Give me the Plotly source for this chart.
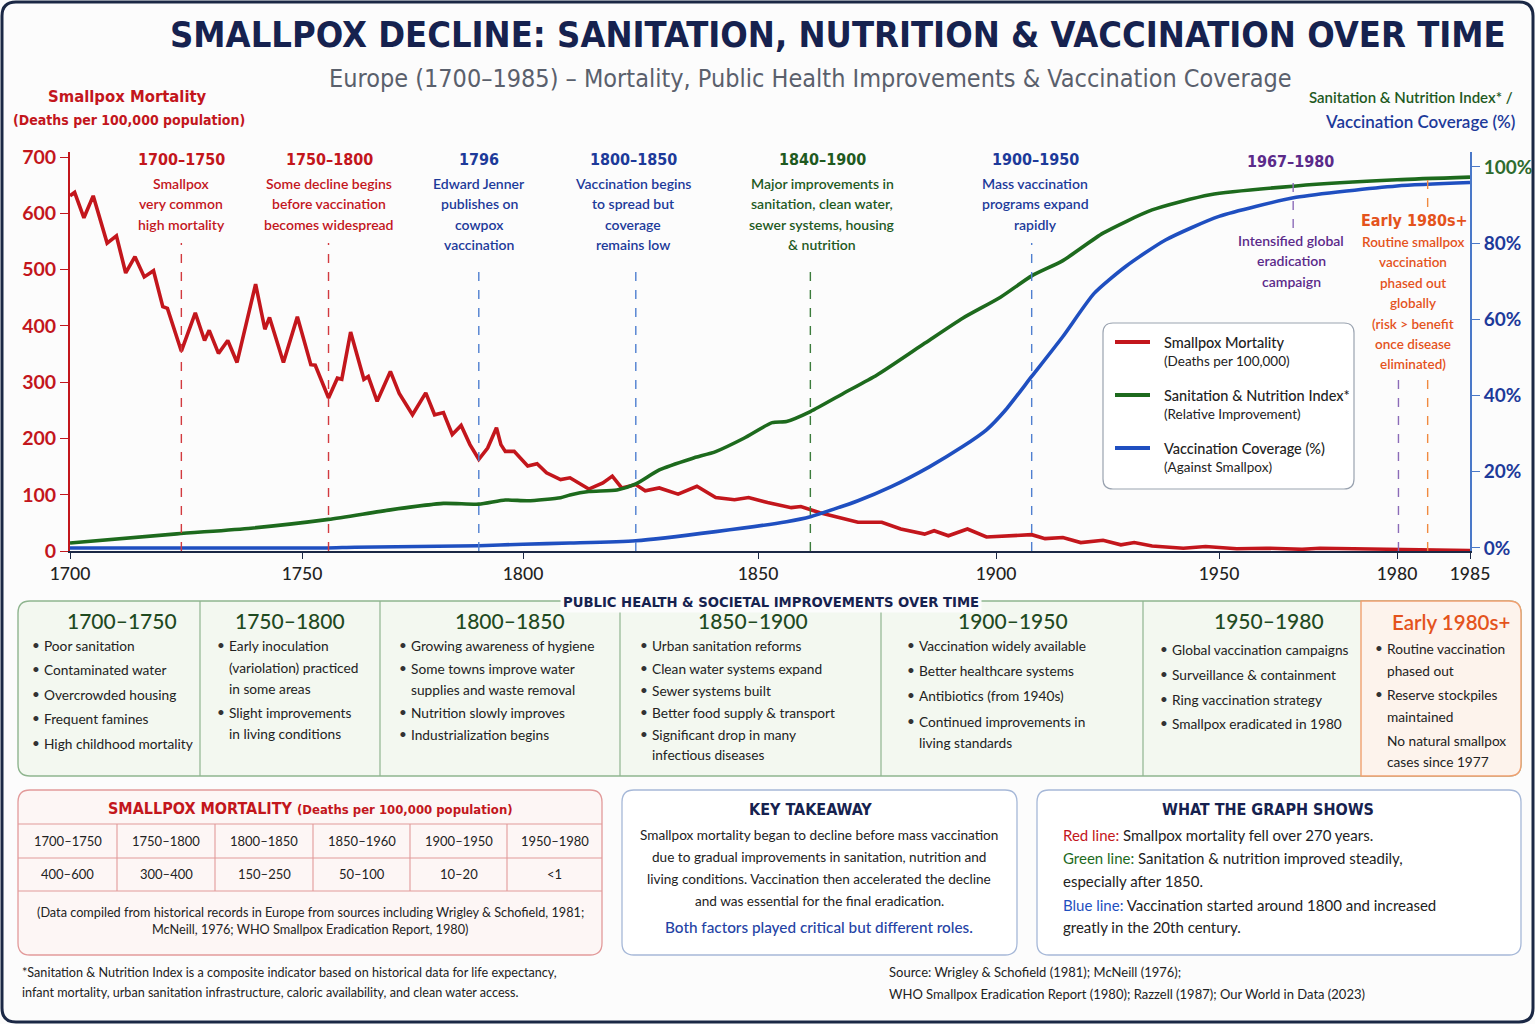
import numpy as np
import plotly.graph_objects as go

# ---- data ------------------------------------------------------------------
mort_years = [1700, 1701, 1703, 1705, 1708, 1710, 1712, 1714, 1716, 1718,
              1720, 1721, 1724, 1727, 1729, 1730, 1732, 1734, 1736, 1740,
              1742, 1743, 1746, 1749, 1752, 1753, 1756, 1758, 1759, 1761,
              1764, 1765, 1767, 1770, 1772, 1775, 1778, 1780, 1782, 1784,
              1786, 1788, 1790, 1792, 1794, 1795, 1796, 1798, 1801, 1803,
              1805, 1808, 1810, 1814, 1817, 1819, 1821, 1824, 1826, 1829,
              1833, 1837, 1841, 1845, 1848, 1852, 1857, 1859, 1863, 1868,
              1871, 1876, 1880, 1885, 1887, 1890, 1894, 1898, 1902, 1908,
              1911, 1915, 1919, 1924, 1928, 1931, 1935, 1942, 1947, 1953,
              1958, 1964, 1967, 1974, 1980, 1983, 1985]
mortality = [631, 637, 592, 631, 547, 560, 494, 523, 487, 498,
             434, 431, 355, 423, 374, 392, 351, 374, 335, 474,
             394, 415, 335, 416, 331, 330, 272, 307, 305, 389,
             305, 310, 266, 319, 280, 242, 281, 242, 246, 207,
             223, 189, 163, 183, 219, 189, 177, 177, 151, 155,
             139, 127, 130, 110, 121, 133, 112, 118, 107, 112,
             101, 115, 95, 91, 95, 86, 77, 79, 68, 57,
             51, 51, 39, 30, 36, 27, 39, 25, 27, 29,
             22, 24, 15, 19, 11, 15, 9, 5, 8, 4,
             5, 3, 5, 4, 2, 1, 1]

san_years = [1700, 1723, 1739, 1756, 1770, 1782, 1790, 1796, 1801, 1808, 1810,
             1814, 1820, 1824, 1829, 1836, 1841, 1847, 1853, 1856, 1861, 1868,
             1875, 1885, 1893, 1901, 1908, 1915, 1924, 1935, 1948, 1963, 1980, 1985]
sanitation = [1.3, 3.7, 5.2, 7.5, 10, 11.7, 11.5, 12.6, 12.4, 13.2, 13.9,
              14.8, 15.2, 16.8, 20.5, 23.5, 25.3, 28.8, 32.9, 33.2, 35.8, 40.6,
              45.4, 53.7, 60.3, 65.8, 71.4, 75.4, 82.6, 88.7, 92.7, 95, 96.6, 97.3]

vac_years = [1700, 1755, 1762, 1790, 1800, 1810, 1824, 1841, 1856, 1861, 1871,
             1878, 1886, 1893, 1898, 1902, 1908, 1915, 1922, 1929, 1938, 1950,
             1963, 1980, 1985]
vaccination = [0, 0, 0.2, 0.6, 1, 1.3, 1.9, 4.3, 6.9, 8.2, 12.4,
               16.1, 21.3, 26.6, 31, 36, 45, 55.5, 66.8, 73.8, 80.8, 87,
               92, 95, 95.9]

tick_years = [1700, 1750, 1800, 1850, 1900, 1950, 1980, 1985]
left_ticks = [0, 100, 200, 300, 400, 500, 600, 700]
right_ticks = [0, 20, 40, 60, 80, 100]

# event markers on the chart
event_years = [1724, 1756, 1790, 1824, 1861, 1908, 1980.1]
event_colors = ["#d23a3f", "#d23a3f", "#4f7fd0", "#4f7fd0", "#3c7c3c", "#4f7fd0", "#8b6bb8"]
event_tops = [243, 243, 263, 263, 263, 243, 378]

periods = ["1700–1750", "1750–1800", "1800–1850", "1850–1960", "1900–1950", "1950–1980"]
period_vals = ["400–600", "300–400", "150–250", "50–100", "10–20", "&lt;1"]

panel_heads = ["1700–1750", "1750–1800", "1800–1850", "1850–1900", "1900–1950", "1950–1980"]
panel_lines = [
    [("•", "Poor sanitation"), ("•", "Contaminated water"), ("•", "Overcrowded housing"),
     ("•", "Frequent famines"), ("•", "High childhood mortality")],
    [("•", "Early inoculation"), ("", "(variolation) practiced"), ("", "in some areas"),
     ("•", "Slight improvements"), ("", "in living conditions")],
    [("•", "Growing awareness of hygiene"), ("•", "Some towns improve water"),
     ("", "supplies and waste removal"), ("•", "Nutrition slowly improves"),
     ("•", "Industrialization begins")],
    [("•", "Urban sanitation reforms"), ("•", "Clean water systems expand"),
     ("•", "Sewer systems built"), ("•", "Better food supply & transport"),
     ("•", "Significant drop in many"), ("", "infectious diseases")],
    [("•", "Vaccination widely available"), ("•", "Better healthcare systems"),
     ("•", "Antibiotics (from 1940s)"), ("•", "Continued improvements in"),
     ("", "living standards")],
    [("•", "Global vaccination campaigns"), ("•", "Surveillance & containment"),
     ("•", "Ring vaccination strategy"), ("•", "Smallpox eradicated in 1980")],
    [("•", "Routine vaccination"), ("", "phased out"), ("•", "Reserve stockpiles"),
     ("", "maintained"), ("", "No natural smallpox"), ("", "cases since 1977")],
]

# ---- page helpers -----------------------------------------------------------
W, H = 1535, 1024
BODY = "Lato, 'Open Sans', sans-serif"
COND = "'DejaVu Sans Condensed', 'Liberation Sans', sans-serif"
NAVY = "#16224f"
RED = "#c3161c"
GREEN = "#1f5a1f"
BLUE = "#1d3a9a"
PURPLE = "#5b2a8a"
ORANGE = "#e4531c"

# uneven year spacing of the original x axis
AXIS_SPACING = [0, 232, 453, 688, 926, 1149, 1327, 1400]


def warp(years):
    return np.interp(years, tick_years, AXIS_SPACING)


def fx(px):
    return px / W


def fy(py):
    return 1 - py / H


annotations = []
shapes = []


def text(x, y, s, size=14, color="#222", weight="normal", anchor="center", family=BODY, **kw):
    annotations.append(dict(xref="paper", yref="paper", x=fx(x), y=fy(y), text=s,
                            showarrow=False, xanchor=anchor, yanchor="middle",
                            font=dict(family=family, size=size, color=color, weight=weight), **kw))


def rrect(x0, y0, x1, y1, r, line, fill, width=1.5, corners=(1, 1, 1, 1)):
    # corners: top-left, top-right, bottom-right, bottom-left
    tl, tr, br, bl = [r * c for c in corners]
    pts = (f"M {fx(x0 + tl)},{fy(y0)} L {fx(x1 - tr)},{fy(y0)} "
           f"Q {fx(x1)},{fy(y0)} {fx(x1)},{fy(y0 + tr)} L {fx(x1)},{fy(y1 - br)} "
           f"Q {fx(x1)},{fy(y1)} {fx(x1 - br)},{fy(y1)} L {fx(x0 + bl)},{fy(y1)} "
           f"Q {fx(x0)},{fy(y1)} {fx(x0)},{fy(y1 - bl)} L {fx(x0)},{fy(y0 + tl)} "
           f"Q {fx(x0)},{fy(y0)} {fx(x0 + tl)},{fy(y0)} Z")
    shapes.append(dict(type="path", xref="paper", yref="paper", path=pts,
                       line=dict(color=line, width=width), fillcolor=fill, layer="below"))


def hline(x0, x1, y, color, width=1.2):
    shapes.append(dict(type="line", xref="paper", yref="paper", x0=fx(x0), x1=fx(x1),
                       y0=fy(y), y1=fy(y), line=dict(color=color, width=width)))


def vline(x, y0, y1, color, width=1.2):
    shapes.append(dict(type="line", xref="paper", yref="paper", x0=fx(x), x1=fx(x),
                       y0=fy(y0), y1=fy(y1), line=dict(color=color, width=width)))


# ---- traces -----------------------------------------------------------------
fig = go.Figure()
fig.add_trace(go.Scatter(x=warp(mort_years), y=mortality, customdata=mort_years,
                         mode="lines", line=dict(color="#c3161c", width=3.6),
                         name="Smallpox Mortality", hovertemplate="%{customdata}: %{y}<extra></extra>"))
fig.add_trace(go.Scatter(x=warp(san_years), y=sanitation, customdata=san_years, yaxis="y2",
                         mode="lines", line=dict(color="#1d6a1d", width=3.6, shape="spline", smoothing=0.6),
                         name="Sanitation & Nutrition Index", hovertemplate="%{customdata}: %{y}%<extra></extra>"))
fig.add_trace(go.Scatter(x=warp(vac_years), y=vaccination, customdata=vac_years, yaxis="y2",
                         mode="lines", line=dict(color="#1f4fc0", width=3.6, shape="spline", smoothing=0.6),
                         name="Vaccination Coverage", hovertemplate="%{customdata}: %{y}%<extra></extra>"))

# dashed event lines
for yr, col, top in zip(event_years, event_colors, event_tops):
    shapes.append(dict(type="line", xref="x", yref="paper", x0=warp(yr), x1=warp(yr),
                       y0=fy(551), y1=fy(top), line=dict(color=col, width=1.4, dash="dash")))
shapes.append(dict(type="line", xref="x", yref="paper", x0=warp(1962.5), x1=warp(1962.5),
                   y0=fy(228), y1=fy(180), line=dict(color="#8b6bb8", width=1.4, dash="dash")))
shapes.append(dict(type="line", xref="x", yref="paper", x0=warp(1982.1), x1=warp(1982.1),
                   y0=fy(551), y1=fy(377), line=dict(color="#f08a40", width=1.4, dash="dash")))
shapes.append(dict(type="line", xref="x", yref="paper", x0=warp(1982.1), x1=warp(1982.1),
                   y0=fy(207), y1=fy(178), line=dict(color="#f08a40", width=1.4, dash="dash")))

# ---- page frame and titles --------------------------------------------------
rrect(2, 2, 1533, 1022, 14, "#1b2845", "rgba(0,0,0,0)", width=3)

text(838, 34, "SMALLPOX DECLINE: SANITATION, NUTRITION &amp; VACCINATION OVER TIME",
     size=36, color=NAVY, weight="bold", family=COND)
text(810, 78, "Europe (1700–1985) – Mortality, Public Health Improvements &amp; Vaccination Coverage",
     size=25, color="#5a606c", family=COND)

text(127, 96, "Smallpox Mortality", size=16.5, color=RED, weight="bold", family=COND)
text(129, 120, "(Deaths per 100,000 population)", size=14, color=RED, weight="bold", family=COND)
text(1515, 97, "Sanitation &amp; Nutrition Index* /", size=15, color=GREEN, weight=600, anchor="right")
text(1517, 121, "Vaccination Coverage (%)", size=17, color=BLUE, weight=600, anchor="right")

# event texts above the chart
events = [
    (181, "1700–1750", RED, ["Smallpox", "very common", "high mortality"]),
    (329, "1750–1800", RED, ["Some decline begins", "before vaccination", "becomes widespread"]),
    (479, "1796", BLUE, ["Edward Jenner", "publishes on", "cowpox", "vaccination"]),
    (633, "1800–1850", BLUE, ["Vaccination begins", "to spread but", "coverage", "remains low"]),
    (822, "1840–1900", GREEN, ["Major improvements in", "sanitation, clean water,",
                               "sewer systems, housing", "&amp; nutrition"]),
    (1035, "1900–1950", BLUE, ["Mass vaccination", "programs expand", "rapidly"]),
]
for x, head, col, lines in events:
    text(x, 159, head, size=16, color=col, weight="bold", family=COND)
    for i, ln in enumerate(lines):
        text(x, 183 + i * 20.5, ln, size=14, color=col, weight=600)

text(1290, 161, "1967–1980", size=16, color=PURPLE, weight="bold", family=COND)
for i, ln in enumerate(["Intensified global", "eradication", "campaign"]):
    text(1291, 240 + i * 20.5, ln, size=14, color=PURPLE, weight=600)
text(1414, 220, "Early 1980s+", size=16, color=ORANGE, weight="bold", family=COND)
for i, ln in enumerate(["Routine smallpox", "vaccination", "phased out", "globally",
                        "(risk &gt; benefit", "once disease", "eliminated)"]):
    text(1413, 242 + i * 20.4, ln, size=13.5, color=ORANGE, weight=600)

# legend box
rrect(1103, 323, 1354, 489, 10, "#9aa3b0", "white", width=1.2)
legend_items = [("#c3161c", "Smallpox Mortality", "(Deaths per 100,000)"),
                ("#1d6a1d", "Sanitation &amp; Nutrition Index*", "(Relative Improvement)"),
                ("#1f4fc0", "Vaccination Coverage (%)", "(Against Smallpox)")]
for i, (col, l1, l2) in enumerate(legend_items):
    yy = 342 + i * 53
    hline(1115, 1150, yy, col, width=4)
    text(1162, yy, l1, size=14.5, color="#222", anchor="left", weight=500)
    text(1162, yy + 19, l2, size=13.5, color="#222", anchor="left")

# ---- public health panel ----------------------------------------------------
rrect(18, 601, 1521, 776, 12, "#8fb58f", "#f3f8f0", width=1.4)
rrect(1361, 601, 1521, 776, 12, "#f0a070", "#fdf3ec", width=1.4, corners=(0, 1, 1, 0))
text(771, 601, "PUBLIC HEALTH &amp; SOCIETAL IMPROVEMENTS OVER TIME", size=14.7, color=NAVY,
     weight="bold", family=COND, bgcolor="#fcfcfc", borderpad=2)
for xd in [200, 380, 620, 881, 1143]:
    vline(xd, 601, 776, "#8fb58f", width=1.2)

head_x = [122, 290, 510, 753, 1013, 1269, 1451]
col_text_x = [30, 215, 397, 638, 905, 1158, 1373]
col_line_y = [
    [645, 669, 694, 718, 743],
    [645, 667, 688, 712, 733],
    [645, 668, 689, 712, 734],
    [645, 668, 690, 712, 734, 754],
    [645, 670, 695, 721, 742],
    [649, 674, 699, 723],
    [648, 670, 694, 716, 740, 761],
]
for i in range(7):
    if i < 6:
        text(head_x[i], 620, panel_heads[i], size=21, color="#1f4a1f", weight=500)
    else:
        text(head_x[i], 622, "Early 1980s+", size=20.5, color=ORANGE, weight=600)
    for (b, ln), yy in zip(panel_lines[i], col_line_y[i]):
        if b:
            text(col_text_x[i], yy, b, size=13.5, color="#333", anchor="left")
        text(col_text_x[i] + 12, yy, ln, size=13.7, color="#222", anchor="left")

# ---- mortality table --------------------------------------------------------
rrect(18, 790, 602, 955, 12, "#e29a9a", "#fdf6f5", width=1.3)
text(310, 808, "SMALLPOX MORTALITY <span style='font-size:13px'>(Deaths per 100,000 population)</span>",
     size=16, color=RED, weight="bold", family=COND)
for yy in [824, 858, 891]:
    hline(18, 602, yy, "#e29a9a", width=1.1)
bounds = [18, 117, 215, 313, 410, 507, 602]
for xb in bounds[1:-1]:
    vline(xb, 824, 891, "#e29a9a", width=1.1)
for i in range(6):
    cx = (bounds[i] + bounds[i + 1]) / 2
    text(cx, 841, periods[i], size=13, color="#222")
    text(cx, 874, period_vals[i], size=13, color="#222")
text(310, 912, "(Data compiled from historical records in Europe from sources including Wrigley &amp; Schofield, 1981;",
     size=12.7, color="#222")
text(310, 929, "McNeill, 1976; WHO Smallpox Eradication Report, 1980)", size=12.7, color="#222")

text(20, 972, "*Sanitation &amp; Nutrition Index is a composite indicator based on historical data for life expectancy,",
     size=12.6, color="#222", anchor="left")
text(20, 992, "infant mortality, urban sanitation infrastructure, caloric availability, and clean water access.",
     size=12.6, color="#222", anchor="left")

# ---- key takeaway -----------------------------------------------------------
rrect(622, 790, 1017, 955, 12, "#a6b8d8", "white", width=1.3)
text(810, 809, "KEY TAKEAWAY", size=16, color=NAVY, weight="bold", family=COND)
for i, ln in enumerate(["Smallpox mortality began to decline before mass vaccination",
                        "due to gradual improvements in sanitation, nutrition and",
                        "living conditions. Vaccination then accelerated the decline",
                        "and was essential for the final eradication."]):
    text(819, 835 + i * 22, ln, size=13.6, color="#222")
text(819, 927, "Both factors played critical but different roles.", size=15.3, color="#2543a5", weight=500)

# ---- what the graph shows ---------------------------------------------------
rrect(1037, 790, 1521, 955, 12, "#a6b8d8", "white", width=1.3)
text(1268, 809, "WHAT THE GRAPH SHOWS", size=16, color=NAVY, weight="bold", family=COND)
shows = [
    "<span style='color:#c3161c'>Red line:</span> Smallpox mortality fell over 270 years.",
    "<span style='color:#1d6a1d'>Green line:</span> Sanitation &amp; nutrition improved steadily,",
    "especially after 1850.",
    "<span style='color:#1f4fc0'>Blue line:</span> Vaccination started around 1800 and increased",
    "greatly in the 20th century.",
]
for ln, yy in zip(shows, [835, 858, 881, 905, 927]):
    text(1061, yy, ln, size=15, color="#222", anchor="left")

text(887, 972, "Source: Wrigley &amp; Schofield (1981); McNeill (1976);", size=13, color="#222", anchor="left")
text(887, 994, "WHO Smallpox Eradication Report (1980); Razzell (1987); Our World in Data (2023)",
     size=13, color="#222", anchor="left")

# ---- axes & layout ----------------------------------------------------------
right_text = [f"{v}%" for v in right_ticks]
right_text[-1] = "<span style='color:#2e6b2e'>100%</span>"

fig.update_layout(
    width=W, height=H, autosize=False,
    margin=dict(l=0, r=0, t=0, b=0, autoexpand=False),
    paper_bgcolor="#fcfcfc", plot_bgcolor="#fcfcfc",
    showlegend=False,
    xaxis=dict(domain=[fx(70), fx(1470)], range=[0, AXIS_SPACING[-1]], automargin=False,
               tickvals=warp(tick_years), ticktext=[str(t) for t in tick_years],
               showgrid=False, zeroline=False, showline=True, linecolor="#1b2845", linewidth=2,
               ticks="outside", ticklen=6, tickcolor="#1b2845",
               tickfont=dict(family=BODY, size=17.5, color="#222", weight=500)),
    yaxis=dict(domain=[fy(551), fy(152)], range=[0, 708.9], tickvals=left_ticks, automargin=False,
               showgrid=False, zeroline=False, showline=True, linecolor="#c3161c", linewidth=2,
               ticks="outside", ticklen=8, tickcolor="#c3161c",
               tickfont=dict(family=BODY, size=19.5, color="#c3161c", weight="bold")),
    yaxis2=dict(overlaying="y", side="right", range=[-0.79, 103.9], tickvals=right_ticks,
                ticktext=right_text, showgrid=False, zeroline=False, showline=True, automargin=False,
                linecolor="#4a78c8", linewidth=2, ticks="outside", ticklen=8, tickcolor="#4a78c8",
                tickfont=dict(family=BODY, size=19, color="#1d3a9a", weight="bold")),
    annotations=annotations,
    shapes=shapes,
)

fig.write_html("out.html", config={"displayModeBar": False},
               post_script="document.body.style.margin='0';document.body.style.overflow='hidden';")
